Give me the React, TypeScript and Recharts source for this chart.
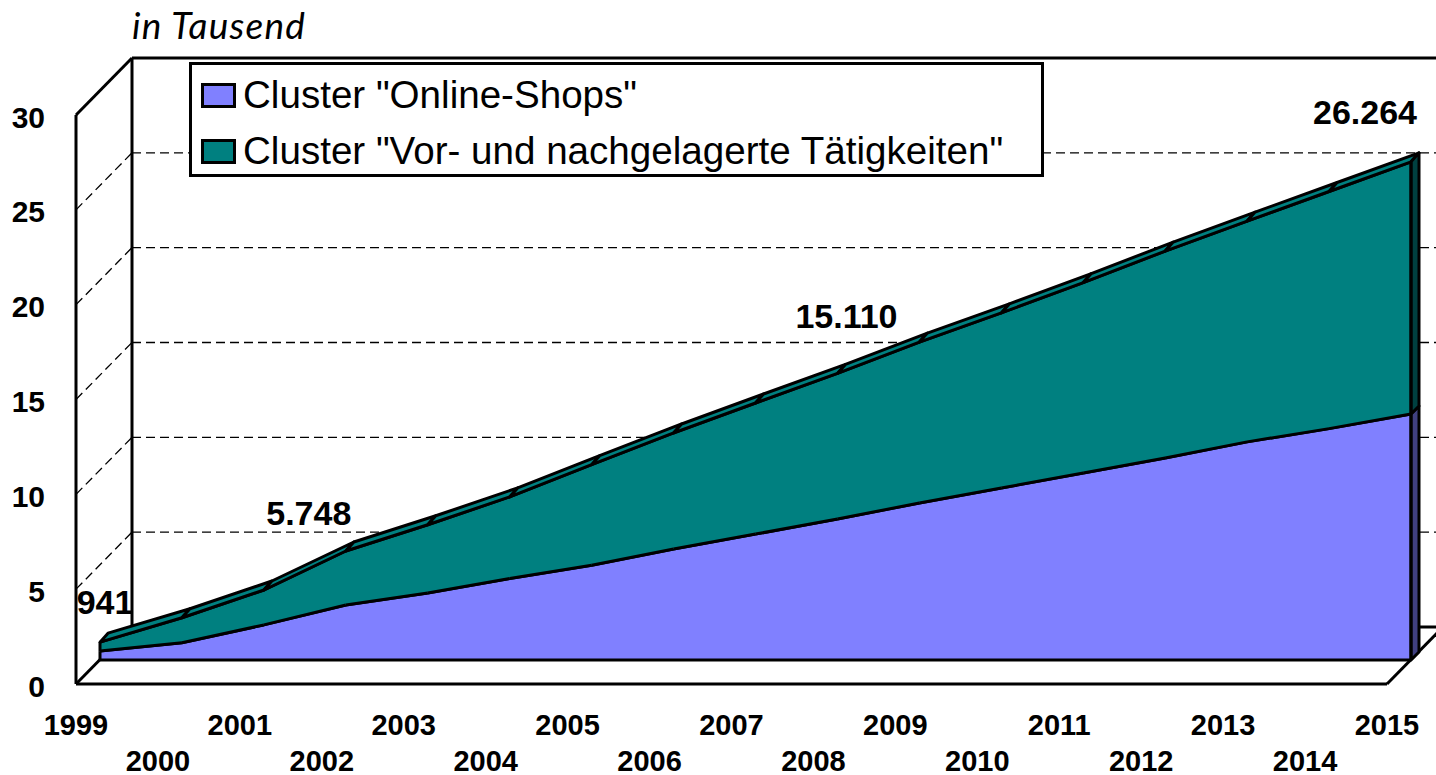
import React from 'react'
import { ComposedChart, Area, XAxis, YAxis, CartesianGrid, Legend, LabelList } from 'recharts'

const years = ['1999', '2000', '2001', '2002', '2003', '2004', '2005', '2006', '2007', '2008', '2009', '2010', '2011', '2012', '2013', '2014', '2015']
const onlineShops = [0.47, 0.91, 1.85, 2.9, 3.53, 4.3, 5.0, 5.85, 6.64, 7.43, 8.28, 9.07, 9.86, 10.65, 11.5, 12.2, 12.97]
const vorNach = [0.471, 1.32, 1.84, 2.848, 3.6, 4.3, 5.3, 6.12, 6.91, 7.68, 8.48, 9.23, 10.04, 10.91, 11.64, 12.5, 13.294]
const yTicks = [0, 5, 10, 15, 20, 25, 30]
const labelledYears = ['1999', '2002', '2008', '2015']

const data = years.map((year, i) => ({ year, online: onlineShops[i], vor: vorNach[i] }))

const WIDTH = 1436
const HEIGHT = 775
const plotLeft = 100
const plotTop = 91
const plotRight = 1411
const plotBottom = 660

const TEAL = '#008080'
const PURPLE = '#8080FF'
const seriesColors: any = { online: PURPLE, vor: TEAL }
const FONT = '"Liberation Sans", Arial, sans-serif'
const DASH = '9 5'
const LINE = 3

// offsets of the pseudo 3D planes, relative to the area's front face
const FRONT = { x: -24, y: 24 }
const BACK = { x: 32, y: -33 }
const DEPTH = 8
const STRIP_RISE = 9

// walls and floor hang on the y axis ticks, so they go through the axis scale
function wallLine(props: any) {
  const y = props.y1
  const fx = plotLeft + FRONT.x
  const fy = y + FRONT.y
  const bx = plotLeft + BACK.x
  const by = y + BACK.y
  const isFloor = Math.abs(y - plotBottom) < 1
  const isTop = Math.abs(y - plotTop) < 1
  if (isFloor) {
    return (
      <g key={props.key} stroke="#000" strokeWidth={LINE} fill="none">
        <line x1={fx} y1={fy} x2={plotRight + FRONT.x} y2={fy} />
        <line x1={fx} y1={fy} x2={bx} y2={by} />
        <line x1={plotRight + FRONT.x} y1={fy} x2={plotRight + BACK.x} y2={by} />
        <line x1={bx} y1={by} x2={WIDTH} y2={by} />
        <line x1={fx} y1={fy} x2={fx} y2={plotTop + FRONT.y} />
        <line x1={bx} y1={by} x2={bx} y2={plotTop + BACK.y} />
      </g>
    )
  }
  if (isTop) {
    return (
      <g key={props.key} stroke="#000" strokeWidth={LINE} fill="none">
        <line x1={fx} y1={fy} x2={bx} y2={by} />
        <line x1={bx} y1={by} x2={WIDTH} y2={by} />
      </g>
    )
  }
  return (
    <g key={props.key} stroke="#000" strokeWidth={1.3} strokeDasharray={DASH} fill="none">
      <line x1={fx} y1={fy} x2={bx} y2={by} />
      <line x1={bx} y1={by} x2={WIDTH} y2={by} />
    </g>
  )
}

// y of the online line under a stacked point, taken from the point's own scale
function onlineY(point: any, payload: any) {
  return plotBottom - ((plotBottom - point.y) * payload.online) / (payload.online + payload.vor)
}

function OnlineDot(props: any) {
  const { index, cx, cy, points } = props
  if (index !== points.length - 1) return <g key={props.key} />
  const first = points[0]
  return (
    <g key={props.key} stroke="#000" strokeWidth={LINE} strokeLinejoin="round">
      <polygon
        points={`${cx},${cy} ${cx + DEPTH},${cy - DEPTH} ${cx + DEPTH},${plotBottom - DEPTH} ${cx},${plotBottom}`}
        fill="#404080"
      />
      <line x1={first.x} y1={plotBottom} x2={cx} y2={plotBottom} />
      <line x1={first.x} y1={first.y} x2={first.x} y2={plotBottom} />
    </g>
  )
}

// top strip of the teal area, its side face at the last year, and the line
// between both clusters, which the teal fill would half cover otherwise
function TotalDot(props: any) {
  const { index, cx, cy, points, payload } = props
  const next = points[index + 1]
  const isLast = !next
  const base = onlineY({ y: cy }, payload)
  return (
    <g key={props.key} stroke="#000" strokeWidth={LINE} strokeLinejoin="round">
      {next && (
        <polygon
          points={`${cx},${cy} ${next.x},${next.y} ${next.x + DEPTH},${next.y - STRIP_RISE} ${cx + DEPTH},${cy - STRIP_RISE}`}
          fill={TEAL}
        />
      )}
      {next && (
        <line x1={cx} y1={base} x2={next.x} y2={onlineY(next, data[index + 1])} />
      )}
      {isLast && (
        <polygon
          points={`${cx},${cy} ${cx + DEPTH},${cy - STRIP_RISE} ${cx + DEPTH},${base - DEPTH} ${cx},${base}`}
          fill="#004040"
        />
      )}
      {(index === 0 || isLast) && <line x1={cx} y1={cy} x2={cx} y2={isLast ? plotBottom : base} />}
    </g>
  )
}

function YTick(props: any) {
  return (
    <text
      x={45}
      y={props.y + FRONT.y + 2}
      textAnchor="end"
      dominantBaseline="central"
      fontFamily={FONT}
      fontWeight="bold"
      fontSize={30}
      fill="#000"
    >
      {props.payload.value}
    </text>
  )
}

function XTick(props: any) {
  const low = props.index % 2 === 1
  return (
    <text
      x={props.x - 24}
      y={low ? 771 : 735}
      textAnchor="middle"
      fontFamily={FONT}
      fontWeight="bold"
      fontSize={29}
      fill="#000"
    >
      {props.payload.value}
    </text>
  )
}

const labelNudge: any = {
  '1999': [5, -40],
  '2002': [-37, -38],
  '2008': [9, -57],
  '2015': [-46, -50],
}

function TotalLabel(props: any) {
  const year = years[props.index]
  if (!labelledYears.includes(year)) return null
  const total = onlineShops[props.index] + vorNach[props.index]
  const [dx, dy] = labelNudge[year]
  return (
    <text
      x={props.x + dx}
      y={props.y + dy}
      textAnchor="middle"
      dominantBaseline="central"
      fontFamily={FONT}
      fontWeight="bold"
      fontSize={34}
      fill="#000"
    >
      {Math.round(total * 1000).toLocaleString('de-DE')}
    </text>
  )
}

function LegendBox({ payload }: any) {
  return (
    <div
      style={{
        boxSizing: 'border-box',
        width: 855,
        height: 115,
        border: '3px solid #000',
        background: '#fff',
        paddingLeft: 9,
        paddingTop: 2,
      }}
    >
      {(payload || []).map((entry: any) => (
        <div key={entry.value} style={{ display: 'flex', alignItems: 'center', height: 56 }}>
          <span
            style={{
              boxSizing: 'border-box',
              width: 35,
              height: 25,
              border: '3px solid #000',
              background: seriesColors[entry.dataKey],
              marginRight: 7,
            }}
          />
          <span style={{ fontFamily: FONT, fontSize: 38.6, color: '#000', whiteSpace: 'nowrap' }}>{entry.value}</span>
        </div>
      ))}
    </div>
  )
}

export default function App() {
  return (
    <div style={{ position: 'absolute', left: 0, top: 0, width: WIDTH, height: HEIGHT, background: '#fff', overflow: 'hidden' }}>
      <div
        style={{
          position: 'absolute',
          left: 132,
          top: 2,
          fontFamily: 'Lato, sans-serif',
          fontStyle: 'italic',
          fontSize: 37,
          letterSpacing: 1.2,
          color: '#000',
          zIndex: 2,
        }}
      >
        in Tausend
      </div>
      <ComposedChart
        width={WIDTH}
        height={HEIGHT}
        data={data}
        margin={{ top: plotTop, right: WIDTH - plotRight, bottom: 0, left: 0 }}
      >
        <CartesianGrid horizontal={wallLine} vertical={false} />
        <XAxis
          dataKey="year"
          scale="point"
          interval={0}
          height={HEIGHT - plotBottom}
          axisLine={false}
          tickLine={false}
          tick={XTick}
        />
        <YAxis
          domain={[0, 30]}
          ticks={yTicks}
          width={plotLeft}
          axisLine={false}
          tickLine={false}
          tick={YTick}
        />
        <Legend
          verticalAlign="middle"
          content={LegendBox}
          wrapperStyle={{ left: 189, top: 62, width: 855, height: 115 }}
        />
        <Area
          dataKey="online"
          name={'Cluster "Online-Shops"'}
          stackId="1"
          type="linear"
          fill={PURPLE}
          fillOpacity={1}
          stroke="#000"
          strokeWidth={LINE}
          dot={OnlineDot}
          isAnimationActive={false}
        />
        <Area
          dataKey="vor"
          name={'Cluster "Vor- und nachgelagerte Tätigkeiten"'}
          stackId="1"
          type="linear"
          fill={TEAL}
          fillOpacity={1}
          stroke="#000"
          strokeWidth={LINE}
          dot={TotalDot}
          isAnimationActive={false}
        >
          <LabelList content={TotalLabel} />
        </Area>
      </ComposedChart>
    </div>
  )
}
